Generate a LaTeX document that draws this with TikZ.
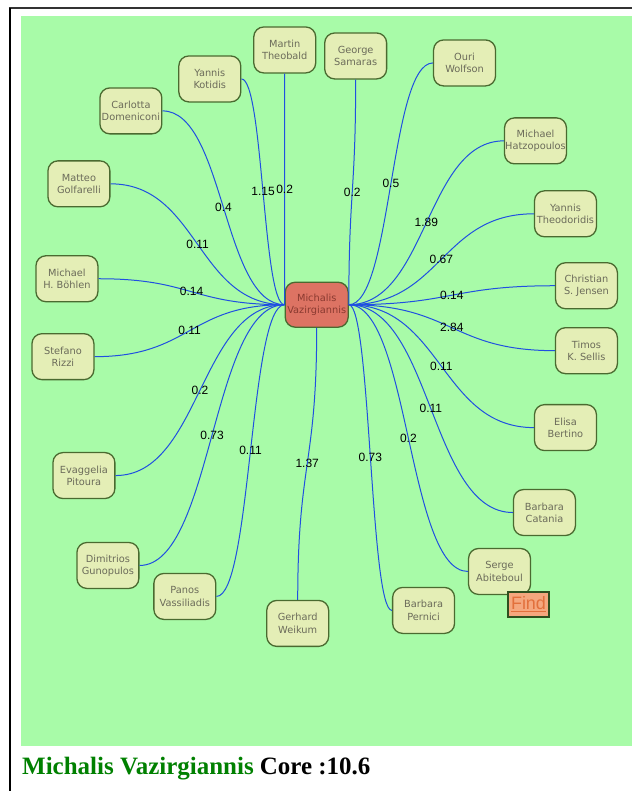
\documentclass[tikz,border=0pt]{standalone}
\usepackage{fontspec}
\setmainfont{DejaVu Sans}
\newfontfamily\weightfont{Liberation Sans}
\newfontfamily\titlefont{Liberation Serif}
\usepackage{xcolor}
\usepackage{tikz}

\definecolor{pagegreen}{HTML}{A8FBA8}
\definecolor{authorfill}{HTML}{E4EEB6}
\definecolor{authordraw}{HTML}{4A6A30}
\definecolor{authortext}{HTML}{6B6B5A}
\definecolor{corefill}{HTML}{DD7363}
\definecolor{coretext}{HTML}{8A3A30}
\definecolor{edgeblue}{HTML}{2050E0}
\definecolor{findfill}{HTML}{F5A77E}
\definecolor{finddraw}{HTML}{2F4F1F}
\definecolor{findtext}{HTML}{E2703C}
\definecolor{titlegreen}{HTML}{008000}

\begin{document}
\begin{tikzpicture}[
    x=1pt, y=1pt,
    author/.style={rectangle, rounded corners=10pt, draw=authordraw, line width=1.3pt, fill=authorfill,
        text=authortext, align=center, inner sep=0pt, minimum width=62pt, minimum height=46pt,
        font=\fontsize{9.8}{12.3}\selectfont},
    core/.style={author, fill=corefill, text=coretext, minimum width=63pt, minimum height=45pt},
    edge/.style={draw=edgeblue, line width=1pt},
    weight/.style={font=\weightfont\fontsize{12}{12}\selectfont, text=black, inner sep=0pt},
    findbox/.style={rectangle, draw=finddraw, line width=2pt, fill=findfill, text=findtext,
        inner sep=0pt, minimum width=42pt, minimum height=25pt, font=\weightfont\fontsize{18}{18}\selectfont}
]

% page and frame
\fill[white] (0,0) rectangle (633,-792);
\fill[pagegreen] (21,-16) rectangle (633,-747);
\draw[line width=2pt, black!80] (9,-8) -- (633,-8);
\draw[line width=1.5pt, black] (10,-8) -- (10,-792);

% the author in the middle
\node[core] (vazirgiannis) at (317,-305) {Michalis\\Vazirgiannis};

% co-authors, left half
\node[author] (theobald) at (285,-50) {Martin\\Theobald};
\node[author] (kotidis) at (210,-79) {Yannis\\Kotidis};
\node[author] (domeniconi) at (131,-111) {Carlotta\\Domeniconi};
\node[author] (golfarelli) at (79,-184) {Matteo\\Golfarelli};
\node[author] (bohlen) at (67,-279) {Michael\\H. Böhlen};
\node[author] (rizzi) at (63,-357) {Stefano\\Rizzi};
\node[author] (pitoura) at (84,-476) {Evaggelia\\Pitoura};
\node[author] (gunopulos) at (108,-566) {Dimitrios\\Gunopulos};
\node[author] (vassiliadis) at (185,-597) {Panos\\Vassiliadis};
\node[author] (weikum) at (298,-624) {Gerhard\\Weikum};

% co-authors, right half
\node[author] (samaras) at (356,-56) {George\\Samaras};
\node[author] (wolfson) at (465,-63) {Ouri\\Wolfson};
\node[author] (hatzopoulos) at (536,-141) {Michael\\Hatzopoulos};
\node[author] (theodoridis) at (566,-214) {Yannis\\Theodoridis};
\node[author] (jensen) at (587,-286) {Christian\\S. Jensen};
\node[author] (sellis) at (587,-351) {Timos\\K. Sellis};
\node[author] (bertino) at (566,-428) {Elisa\\Bertino};
\node[author] (catania) at (545,-513) {Barbara\\Catania};
\node[author] (abiteboul) at (500,-572) {Serge\\Abiteboul};
\node[author] (pernici) at (424,-611) {Barbara\\Pernici};

% links with weights
\draw[edge] (theobald.south) to[out=-90, in=90, distance=116pt] node[midway, weight] {0.2} (vazirgiannis.west);
\draw[edge] (kotidis.east) to[out=0, in=180, distance=22pt] node[midway, weight] {1.15} (vazirgiannis.west);
\draw[edge] (domeniconi.east) to[out=0, in=180, distance=62pt] node[midway, weight] {0.4} (vazirgiannis.west);
\draw[edge] (golfarelli.east) to[out=0, in=180, distance=88pt] node[midway, weight] {0.11} (vazirgiannis.west);
\draw[edge] (bohlen.east) to[out=0, in=180, distance=94pt] node[midway, weight] {0.14} (vazirgiannis.west);
\draw[edge] (rizzi.east) to[out=0, in=180, distance=96pt] node[midway, weight] {0.11} (vazirgiannis.west);
\draw[edge] (pitoura.east) to[out=0, in=180, distance=85pt] node[midway, weight] {0.2} (vazirgiannis.west);
\draw[edge] (gunopulos.east) to[out=0, in=180, distance=73pt] node[midway, weight] {0.73} (vazirgiannis.west);
\draw[edge] (vassiliadis.east) to[out=0, in=180, distance=35pt] node[midway, weight] {0.11} (vazirgiannis.west);
\draw[edge] (vazirgiannis.south) to[out=-90, in=90, distance=137pt] node[midway, weight] {1.37} (weikum.north);

\draw[edge] (vazirgiannis.east) to[out=90, in=-90, distance=113pt] node[midway, weight] {0.2} (samaras.south);
\draw[edge] (vazirgiannis.east) to[out=0, in=180, distance=43pt] node[midway, weight] {0.5} (wolfson.west);
\draw[edge] (vazirgiannis.east) to[out=0, in=180, distance=78pt] node[midway, weight] {1.89} (hatzopoulos.west);
\draw[edge] (vazirgiannis.east) to[out=0, in=180, distance=93pt] node[midway, weight] {0.67} (theodoridis.west);
\draw[edge] (vazirgiannis.east) to[out=0, in=180, distance=104pt] node[midway, weight] {0.14} (jensen.west);
\draw[edge] (vazirgiannis.east) to[out=0, in=180, distance=104pt] node[midway, weight] {2.84} (sellis.west);
\draw[edge] (vazirgiannis.east) to[out=0, in=180, distance=93pt] node[midway, weight] {0.11} (bertino.west);
\draw[edge] (vazirgiannis.east) to[out=0, in=180, distance=83pt] node[midway, weight] {0.11} (catania.west);
\draw[edge] (vazirgiannis.east) to[out=0, in=180, distance=60pt] node[midway, weight] {0.2} (abiteboul.west);
\draw[edge] (vazirgiannis.east) to[out=0, in=180, distance=22pt] node[midway, weight] {0.73} (pernici.west);

% search button
\node[findbox] (find) at (529,-605) {\underline{Find}};

% caption under the graph
\node[anchor=base west, inner sep=0pt, font=\titlefont\bfseries\fontsize{25}{25}\selectfont] (caption) at (22,-775)
    {\textcolor{titlegreen}{Michalis Vazirgiannis} Core :10.6};

\end{tikzpicture}
\end{document}
